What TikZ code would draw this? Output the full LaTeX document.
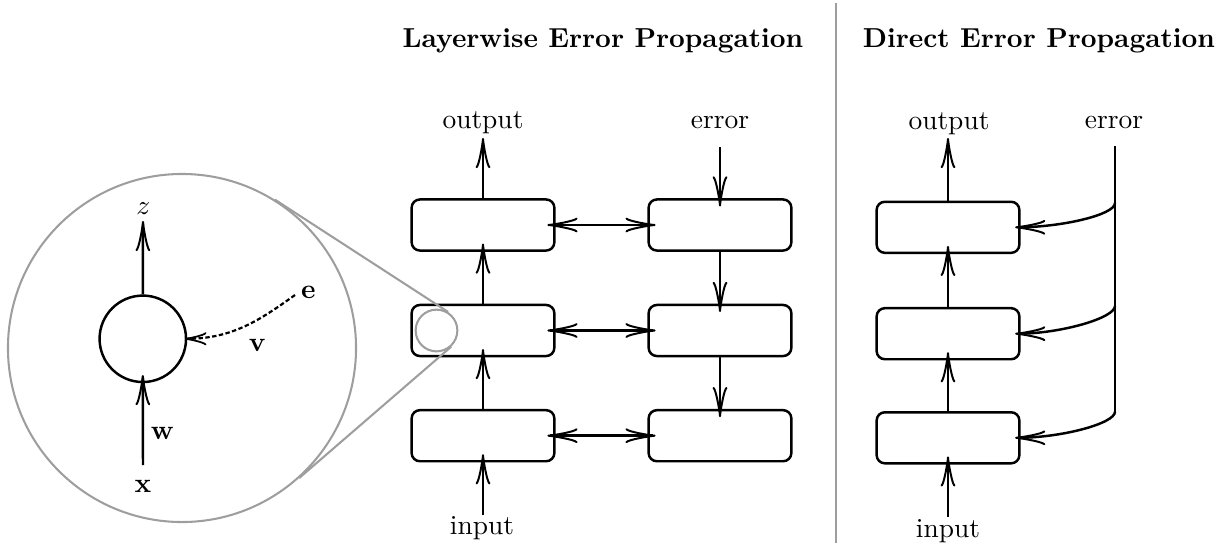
\documentclass[tikz,border=0pt]{standalone}
\usetikzlibrary{arrows.meta}
\begin{document}
\begin{tikzpicture}[x=0.3643pt, y=-0.3643pt,
  >={Classical TikZ Rightarrow[length=11pt,width=5.4pt]},
  layer/.style={draw, line width=0.9pt, rounded corners=3pt,
    minimum width=52pt, minimum height=18.6pt, inner sep=0pt},
  flow/.style={->, line width=0.9pt},
  twoway/.style={<->, line width=0.9pt, shorten <=-3pt, shorten >=-3pt},
  into/.style={shorten >=-3pt},
  plain/.style={line width=0.9pt},
  zoomcirc/.style={circle, draw=black!38, line width=0.75pt, inner sep=0pt},
  zoomline/.style={draw=black!38, line width=0.75pt},
  divider/.style={draw=black!38, line width=0.6pt},
  title/.style={font=\bfseries},
]
\useasboundingbox (0,0) rectangle (1226,543);

% headings and the divider between the two schemes
\node[title] (tl) at (603,40.5) {Layerwise Error Propagation};
\node[title] (td) at (1039,40.5) {Direct Error Propagation};
\coordinate (divtop) at (836,3);
\coordinate (divbot) at (836,543);
\draw[divider] (divtop) -- (divbot);

% ---------- layerwise error propagation ----------
\node[layer] (L1) at (483,225) {};
\node[layer] (L2) at (483,330.5) {};
\node[layer] (L3) at (483,435.7) {};
\node[layer] (R1) at (720,225) {};
\node[layer] (R2) at (720,330.5) {};
\node[layer] (R3) at (720,435.7) {};

\node (lout) at (483,123) {output};
\coordinate (louttip) at (483,138);
\node (lin) at (482,528) {input};
\coordinate (linfoot) at (483,515);
\node (lerr) at (720,122.5) {error};
\coordinate (lerrtop) at (720,147);

\draw[flow] (L1.north) -- (louttip);
\draw[flow,into] (linfoot) -- (L3.south);
\draw[flow,into] (L3.north) -- (L2.south);
\draw[flow,into] (L2.north) -- (L1.south);

\draw[flow,into] (lerrtop) -- (R1.north);
\draw[flow,into] (R1.south) -- (R2.north);
\draw[flow,into] (R2.south) -- (R3.north);

\draw[twoway] (L1.east) -- (R1.west);
\draw[twoway] (L2.east) -- (R2.west);
\draw[twoway] (L3.east) -- (R3.west);

% ---------- direct error propagation ----------
\node[layer] (D1) at (948,227.3) {};
\node[layer] (D2) at (948,333.7) {};
\node[layer] (D3) at (948,437.8) {};

\node (dout) at (949,123.3) {output};
\coordinate (douttip) at (948,138);
\node (din) at (948,530.7) {input};
\coordinate (dinfoot) at (948,516.7);
\node (derr) at (1114,122) {error};
\coordinate (derrtop) at (1115,146);
\coordinate (br1) at (1115,203);
\coordinate (br2) at (1115,306);
\coordinate (br3) at (1115,411.7);

\draw[flow] (D1.north) -- (douttip);
\draw[flow,into] (dinfoot) -- (D3.south);
\draw[flow,into] (D3.north) -- (D2.south);
\draw[flow,into] (D2.north) -- (D1.south);

\draw[plain] (derrtop) -- (br3);
\draw[flow, shorten >=-2pt] (br1) .. controls +(0,12) and +(40,0) .. (D1.east);
\draw[flow, shorten >=-2pt] (br2) .. controls +(0,12) and +(40,0) .. (D2.east);
\draw[flow, shorten >=-2pt] (br3) .. controls +(0,12) and +(40,0) .. (D3.east);

% ---------- magnified view of a single unit ----------
\node[zoomcirc, minimum size=126.8pt] (lens) at (182,348) {};
\node[zoomcirc, minimum size=15.2pt] (spot) at (436.5,330.5) {};
\draw[zoomline] (lens.58) -- (spot.58);
\draw[zoomline] (lens.-48) -- (spot.-48);

\node[circle, draw, line width=0.9pt, minimum size=31.5pt, inner sep=0pt] (unit) at (142.8,338.8) {};

\node (zout) at (143.3,208.5) {$z$};
\coordinate (ztip) at (143,221);
\draw[flow] (unit.north) -- (ztip);

\node (xin) at (143,486) {$\mathbf{x}$};
\coordinate (xfoot) at (143,465);
\draw[flow,into] (xfoot) -- (unit.south);
\node (wlab) at (162.5,433) {$\mathbf{w}$};

\node (eerr) at (308.3,292) {$\mathbf{e}$};
\coordinate (efoot) at (295,295);
\draw[line width=0.8pt, dash pattern=on 1.6pt off 0.9pt,
      -{Classical TikZ Rightarrow[length=8pt,width=4.8pt]}, shorten >=-1pt]
  (efoot) .. controls +(-35,25) and +(45,0) .. (unit.east);
\node (vlab) at (257.5,345) {$\mathbf{v}$};
\end{tikzpicture}
\end{document}
